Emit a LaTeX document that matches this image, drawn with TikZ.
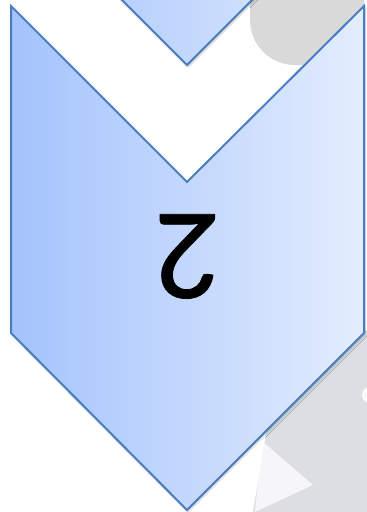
\documentclass[tikz,border=0pt]{standalone}
\usepackage{fontspec}
\newfontfamily\digitfont[FakeBold=0.6]{Carlito}
\usetikzlibrary{shadows.blur}
\definecolor{chevleft}{RGB}{164,195,252}
\definecolor{chevright}{RGB}{227,237,254}
\definecolor{chevline}{RGB}{74,126,193}
\definecolor{bggrey}{RGB}{217,217,217}
\definecolor{bggreyb}{RGB}{220,222,228}
\tikzset{
  chevron/.style={draw=chevline, line width=2pt, line join=miter,
    left color=chevleft, right color=chevright, shading angle=90,
    blur shadow={shadow xshift=1pt, shadow yshift=-2pt, shadow blur radius=2pt, shadow opacity=25}},
  numlabel/.style={font=\digitfont\fontsize{130}{130}\selectfont, text=black, inner sep=0pt, rotate=180},
}
\begin{document}
\begin{tikzpicture}[x=1pt,y=-1pt]
\useasboundingbox (0,0) rectangle (367,512);
\begin{scope}
\clip (0,0) rectangle (367,512);
% background grey shapes
\fill[bggrey] (250,-10) -- (250,20) arc[start angle=180, end angle=90, radius=45] -- (364,65) -- (364,-10) -- cycle;
\fill[bggreyb] (253,512) -- (267,428) -- (267,330) -- (367,330) -- (367,512) -- cycle;
\fill[white, opacity=0.75] (262,441) -- (313,485) -- (255,512) -- cycle;
\fill[white, opacity=0.9] (367,395) ellipse[x radius=5, y radius=7];
% top chevron (previous step)
\path[chevron] (11,-300) -- (364,-300) -- (364,-112) -- (187,65) -- (11,-111) -- cycle;
% main chevron
\path[chevron] (11,6) -- (187,182) -- (364,6) -- (364,333) -- (187,510) -- (11,333) -- cycle;
\end{scope}
\node[numlabel] (num) at (187.5,256.5) {2};
\end{tikzpicture}
\end{document}
